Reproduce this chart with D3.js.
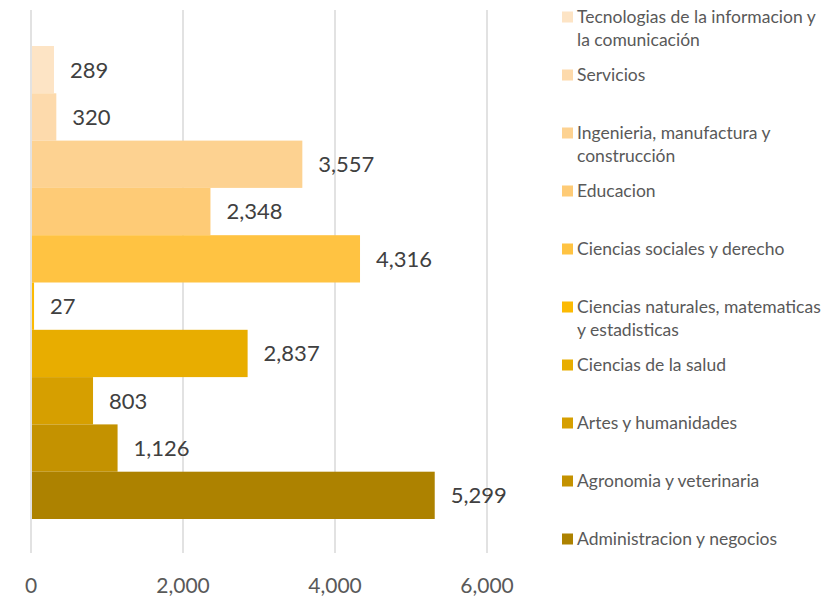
<!DOCTYPE html>
<html>
<head>
<meta charset="utf-8">
<script src="https://cdn.jsdelivr.net/npm/d3@7"></script>
<style>
  body { margin: 0; background: #fff; }
  svg { display: block; font-family: Lato, "Open Sans", sans-serif; }
</style>
</head>
<body>
<svg id="chart" width="830" height="596"></svg>
<script>
// ============================================================
// DATA
// ============================================================
const categories = [
  'Tecnologias de la informacion y la comunicación',
  'Servicios',
  'Ingenieria, manufactura y construcción',
  'Educacion',
  'Ciencias sociales y derecho',
  'Ciencias naturales, matematicas y estadisticas',
  'Ciencias de la salud',
  'Artes y humanidades',
  'Agronomia y veterinaria',
  'Administracion y negocios'
];
const values = [289, 320, 3557, 2348, 4316, 27, 2837, 803, 1126, 5299];
const colors = ['#FDE4C5', '#FDDAAC', '#FDD291', '#FECB76', '#FFC342',
                '#FCBA03', '#E8AD00', '#D69F00', '#C49200', '#AD8200'];
const xTicks = [0, 2000, 4000, 6000];

// ============================================================
// SCALES
// ============================================================
const svg = d3.select('#chart');
const x = d3.scaleLinear().domain([0, 6000]).range([31, 487]);
const y = d3.scaleBand().domain(categories).range([46, 519]).padding(0);
const fmt = d3.format(',');

// grid lines
svg.append('g').selectAll('line')
  .data(xTicks)
  .join('line')
  .attr('x1', d => x(d)).attr('x2', d => x(d))
  .attr('y1', 10).attr('y2', 553)
  .attr('stroke', '#d9d9d9')
  .attr('stroke-width', 1.5);

// bars
svg.append('g').selectAll('rect')
  .data(categories)
  .join('rect')
  .attr('x', x(0) + 1)
  .attr('y', d => y(d))
  .attr('width', (d, i) => x(values[i]) - x(0))
  .attr('height', y.bandwidth())
  .attr('fill', (d, i) => colors[i]);

// value labels
svg.append('g').selectAll('text')
  .data(categories)
  .join('text')
  .attr('x', (d, i) => x(values[i]) + 17)
  .attr('y', d => y(d) + y.bandwidth() / 2)
  .attr('dy', '0.36em')
  .attr('font-size', 22)
  .attr('fill', '#404040')
  .text((d, i) => fmt(values[i]));

// x axis labels
svg.append('g').selectAll('text')
  .data(xTicks)
  .join('text')
  .attr('x', d => x(d))
  .attr('y', 585)
  .attr('dy', '0.36em')
  .attr('text-anchor', 'middle')
  .attr('font-size', 21)
  .attr('fill', '#595959')
  .text(d => fmt(d));

// ============================================================
// LEGEND
// ============================================================
const legend = svg.append('g');
const item = legend.selectAll('g')
  .data(categories)
  .join('g')
  .attr('transform', (d, i) => `translate(562, ${17 + i * 58})`);

item.append('rect')
  .attr('x', 0).attr('y', -5.5)
  .attr('width', 11).attr('height', 11)
  .attr('fill', (d, i) => colors[i]);

item.append('text')
  .attr('x', 15)
  .attr('font-size', 17.5)
  .attr('fill', '#595959')
  .each(function(d) {
    const t = d3.select(this);
    const words = d.split(' ');
    let line = [];
    let tspan = t.append('tspan').attr('x', 15).attr('dy', '0.36em');
    words.forEach(w => {
      line.push(w);
      tspan.text(line.join(' '));
      if (tspan.node().getComputedTextLength() > 248 && line.length > 1) {
        line.pop();
        tspan.text(line.join(' '));
        line = [w];
        tspan = t.append('tspan').attr('x', 15).attr('dy', 23).text(w);
      }
    });
  });
</script>
</body>
</html>
